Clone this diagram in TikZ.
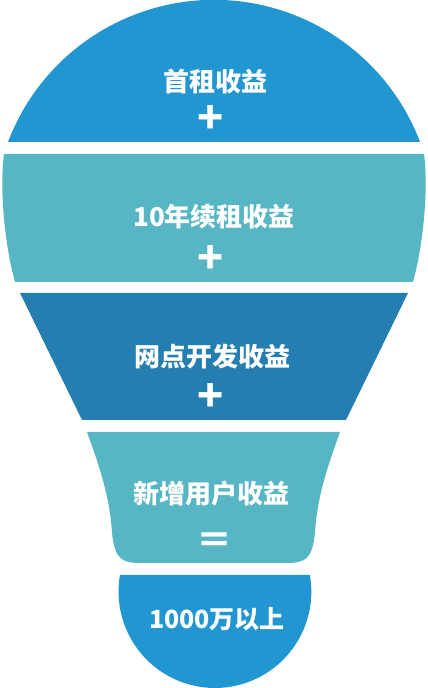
\documentclass[tikz,border=0pt]{standalone}
\usepackage{fontspec}
\newfontfamily\cjk{Noto Sans CJK SC}
\definecolor{bulbblue}{RGB}{34,150,208}
\definecolor{bulbteal}{RGB}{87,182,195}
\definecolor{bulbdark}{RGB}{36,127,176}

\begin{document}
\begin{tikzpicture}[
  x=1pt, y=1pt,
  tier/.style={text=white, inner sep=0pt, font=\cjk\bfseries\fontsize{26}{28}\selectfont},
  op/.style={text=white, inner sep=0pt, font=\cjk\bfseries\fontsize{36}{36}\selectfont},
]
\useasboundingbox (0,0) rectangle (428,688);

% ==================== TIER 1 : dome ====================
\fill[bulbblue] (8,546) arc[start angle=159.2, end angle=20.8, radius=220.4] -- cycle;
\node[tier] (t1) at (215,606) {首租收益};
\node[op, font=\cjk\bfseries\fontsize{43}{43}\selectfont] (p1) at (211,568) {+};

% ==================== TIER 2 : bulging band ====================
\fill[bulbteal] (4,534) -- (424,534)
  .. controls (428,505) and (425,450) .. (413,406) -- (15,406)
  .. controls (3,450) and (0,505) .. (4,534) -- cycle;
\node[tier] (t2) at (214,471) {10年续租收益};
\node[op, font=\cjk\bfseries\fontsize{43}{43}\selectfont] (p2) at (211,428) {+};

% ==================== TIER 3 : trapezoid ====================
\fill[bulbdark] (20,395) -- (408,395) -- (346,268) -- (82,268) -- cycle;
\node[tier] (t3) at (212,331) {网点开发收益};
\node[op, font=\cjk\bfseries\fontsize{43}{43}\selectfont] (p3) at (211,290) {+};

% ==================== TIER 4 : neck ====================
\fill[bulbteal] (87,256) -- (340,256)
  .. controls (327,220) and (317,190) .. (315,155)
  .. controls (312,128) and (305,125) .. (285,125) -- (142,125)
  .. controls (122,125) and (115,128) .. (112,155)
  .. controls (110,190) and (100,220) .. (87,256) -- cycle;
\node[tier] (t4) at (211,194) {新增用户收益};
\node[op] (eq) at (214,145) {＝};

% ==================== TIER 5 : base cap ====================
\fill[bulbblue] (120,113) arc[start angle=170.1, end angle=369.9, radius=96.4] -- cycle;
\node[tier, font=\cjk\bfseries\fontsize{25}{28}\selectfont] (t5) at (217,69) {1000万以上};

\end{tikzpicture}
\end{document}
